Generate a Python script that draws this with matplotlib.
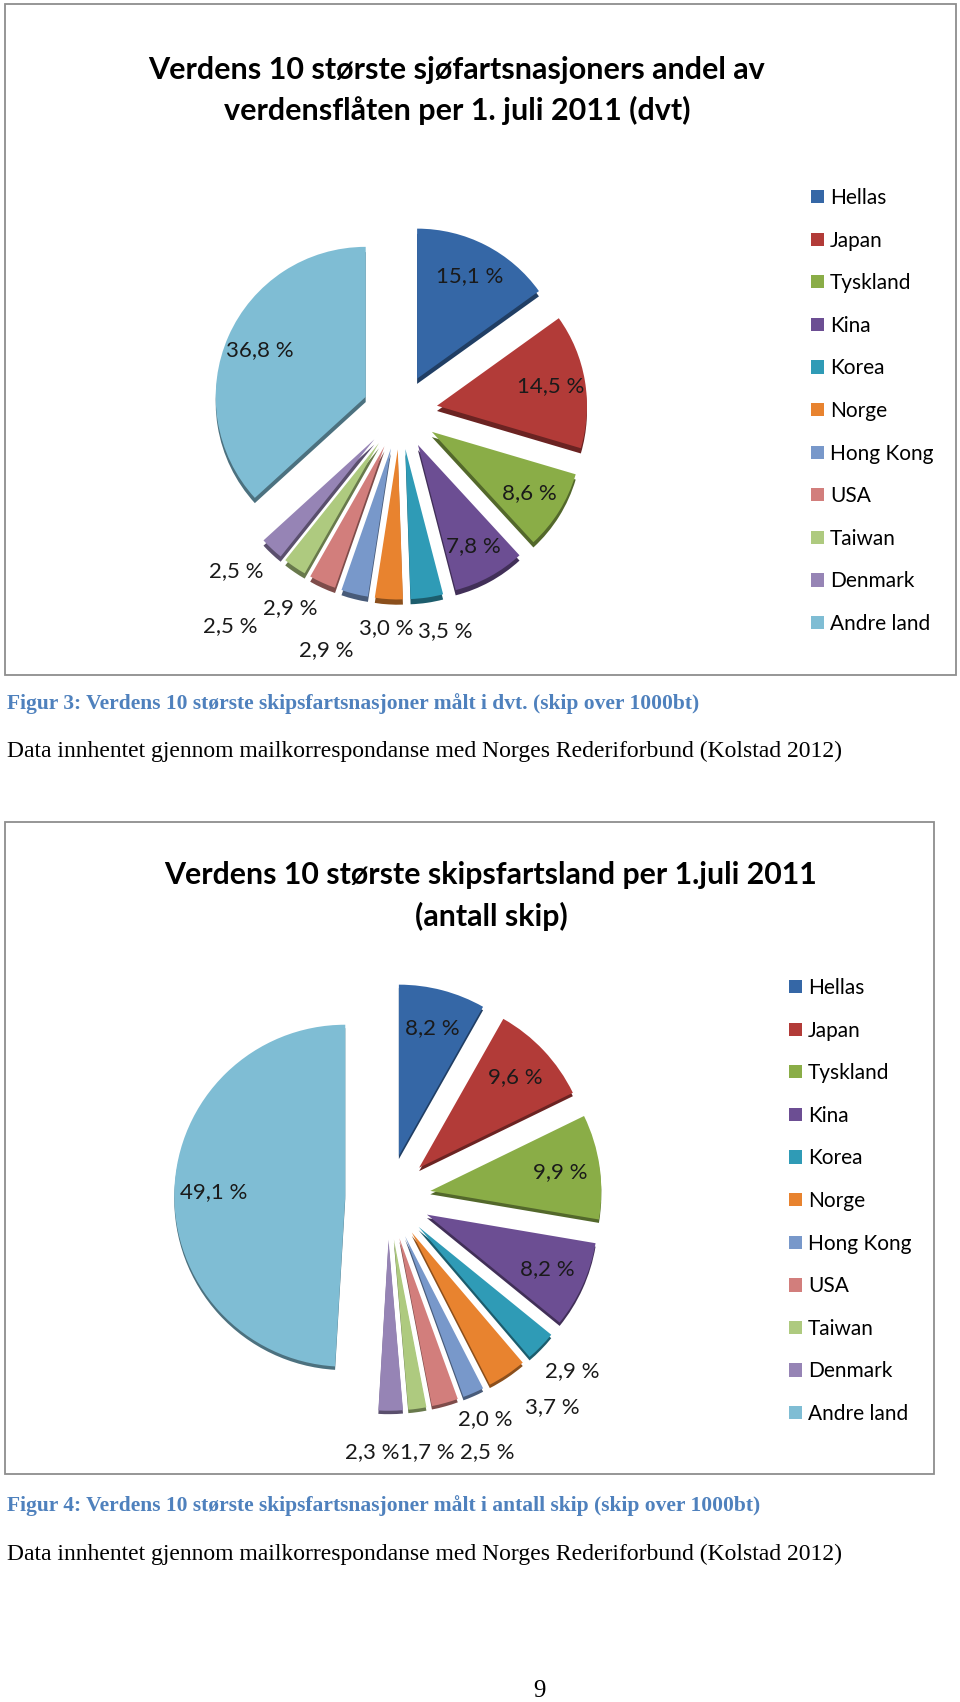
import matplotlib
matplotlib.use("Agg")
import matplotlib.pyplot as plt
from matplotlib.patches import Rectangle, Patch
from matplotlib.colors import to_rgb

# data
countries = ["Hellas", "Japan", "Tyskland", "Kina", "Korea", "Norge",
             "Hong Kong", "USA", "Taiwan", "Denmark", "Andre land"]
dvt_share = [15.1, 14.5, 8.6, 7.8, 3.5, 3.0, 2.9, 2.9, 2.5, 2.5, 36.8]
ship_share = [8.2, 9.6, 9.9, 8.2, 2.9, 3.7, 2.0, 2.5, 1.7, 2.3, 49.1]

title1 = ["Verdens 10 største sjøfartsnasjoners andel av",
          "verdensflåten per 1. juli 2011 (dvt)"]
title2 = ["Verdens 10 største skipsfartsland per 1.juli 2011",
          "(antall skip)"]
caption1 = "Figur 3: Verdens 10 største skipsfartsnasjoner målt i dvt. (skip over 1000bt)"
caption2 = "Figur 4: Verdens 10 største skipsfartsnasjoner målt i antall skip (skip over 1000bt)"
source = "Data innhentet gjennom mailkorrespondanse med Norges Rederiforbund (Kolstad 2012)"
page_no = "9"

colors = ["#3567a6", "#b23b38", "#8aad47", "#6c4e93", "#2f9bb6", "#e8832f",
          "#7898ca", "#d27e7c", "#aeca7f", "#9684b5", "#7fbdd4"]

# label spots for the thin slices (pie units), everything else sits inside
small_pos1 = [(0.30, -1.46), (-0.09, -1.44), (-0.49, -1.59),
              (-0.73, -1.31), (-1.13, -1.43), (-1.09, -1.06)]
small_pos2 = [(1.08, -1.02), (0.96, -1.23), (0.57, -1.30),
              (0.58, -1.49), (0.23, -1.49), (-0.09, -1.49)]

W, H = 960, 1702
SANS = "Lato"
SERIF = "Liberation Serif"

fig = plt.figure(figsize=(W / 100, H / 100), dpi=100)
bg = fig.add_axes([0, 0, 1, 1])
bg.set_xlim(0, W)
bg.set_ylim(H, 0)
bg.axis("off")


def darker(c, f=0.6):
    r, g, b = to_rgb(c)
    return (r * f, g * f, b * f)


def pie_axes(cx, cy, R, k=1.75):
    half = k * R
    ax = fig.add_axes([(cx - half) / W, 1 - (cy + half) / H, 2 * half / W, 2 * half / H])
    return ax, k


def draw_pie(cx, cy, R, values, small_pos, depth):
    ax, k = pie_axes(cx, cy, R)
    expl = [0.25] * len(values)
    # side of the slices (fake 3d)
    ax.pie(values, startangle=90, counterclock=False, explode=expl,
           colors=[darker(c) for c in colors], center=(0, -depth),
           wedgeprops=dict(linewidth=0))
    wedges, _, autotexts = ax.pie(values, startangle=90, counterclock=False,
                                  explode=expl, colors=colors, autopct="%1.1f",
                                  pctdistance=0.77,
                                  wedgeprops=dict(linewidth=0))
    for i, t in enumerate(autotexts):
        t.set_text(f"{values[i]:.1f} %".replace(".", ","))
        t.set_fontfamily(SANS)
        t.set_fontsize(16)
        t.set_color("#1a1a1a")
    for j, pos in enumerate(small_pos):
        autotexts[4 + j].set_position(pos)
    ax.set_xlim(-k, k)
    ax.set_ylim(-k, k)
    ax.set_aspect("equal")
    ax.axis("off")
    return wedges


def draw_legend(x, y):
    handles = [Patch(facecolor=c, edgecolor="none") for c in colors]
    bg.legend(handles, countries, loc="upper left", bbox_to_anchor=(x, y),
              bbox_transform=bg.transData, frameon=False,
              prop=dict(family=SANS, size=15), handlelength=0.6,
              handleheight=0.6, handletextpad=0.3, labelspacing=1.085,
              borderpad=0, borderaxespad=0)


# chart 1
bg.add_patch(Rectangle((5, 4), 951, 671, fill=False, edgecolor="#8e8e8e", lw=1.3))
bg.text(457, 70, title1[0], ha="center", va="center", fontsize=22,
        fontweight="bold", family=SANS)
bg.text(457, 110, title1[1], ha="center", va="center", fontsize=22,
        fontweight="bold", family=SANS)
draw_pie(400, 412, 150, dvt_share, small_pos1, 0.035)
draw_legend(811, 188)
l1 = bg.get_legend()
bg.add_artist(l1)

# chart 2
bg.add_patch(Rectangle((5, 822), 929, 652, fill=False, edgecolor="#8e8e8e", lw=1.3))
bg.text(491, 875, title2[0], ha="center", va="center", fontsize=21.8,
        fontweight="bold", family=SANS)
bg.text(491, 916, title2[1], ha="center", va="center", fontsize=21.8,
        fontweight="bold", family=SANS)
draw_pie(388, 1197, 171, ship_share, small_pos2, 0.02)
draw_legend(789, 978)

# captions
bg.text(7, 704, caption1, va="center", fontsize=15.5, fontweight="bold",
        family=SERIF, color="#4f81bd")
bg.text(7, 751, source, va="center", fontsize=17, family=SERIF)
bg.text(7, 1506, caption2, va="center", fontsize=15.5, fontweight="bold",
        family=SERIF, color="#4f81bd")
bg.text(7, 1554, source, va="center", fontsize=17, family=SERIF)
bg.text(539, 1691, page_no, ha="center", va="center", fontsize=18, family=SERIF)

fig.savefig("out.png", dpi=100, facecolor="white")
